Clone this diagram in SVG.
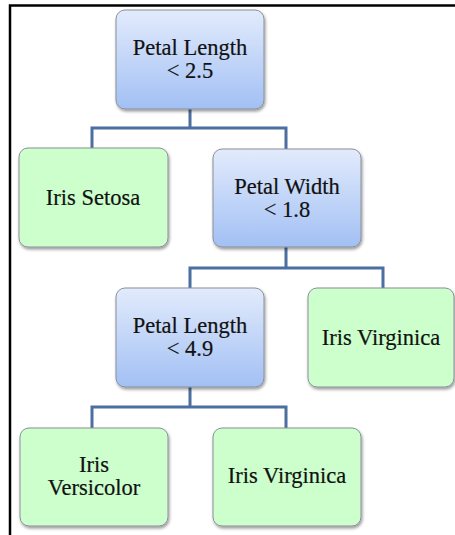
<svg xmlns="http://www.w3.org/2000/svg" width="455" height="535" viewBox="0 0 455 535">
<defs>
<linearGradient id="blueGrad" x1="0" y1="0" x2="0" y2="1">
<stop offset="0" stop-color="#e2ebfc"/>
<stop offset="1" stop-color="#a2c0f4"/>
</linearGradient>
<filter id="shadow" x="-10%" y="-10%" width="125%" height="130%">
<feDropShadow dx="1" dy="2" stdDeviation="1.5" flood-color="#000" flood-opacity="0.4"/>
</filter>
</defs>
<style>
.decision{fill:url(#blueGrad);stroke:#8a8f99;stroke-width:1;filter:url(#shadow)}
.leaf{fill:#ccffcc;stroke:#8a8f99;stroke-width:1;filter:url(#shadow)}
.lbl{font-family:"Liberation Serif","DejaVu Serif",serif;font-size:22.5px;fill:#111;text-anchor:middle;stroke:#111;stroke-width:0.2}
.conn{fill:none;stroke:#4a6fa0;stroke-width:3}
.frame{fill:none;stroke:#000;stroke-width:2.5}
</style>
<rect width="455" height="535" fill="#fff"/>
<path class="frame" d="M10 535 V5.5 H455"/>
<g id="connectors">
<path class="conn" d="M190 109 V128 M92 149 V128 H286 V149"/>
<path class="conn" d="M286 247 V268 M190 288 V268 H383 V288"/>
<path class="conn" d="M190 387 V407 M92 428 V407 H286 V428"/>
</g>
<g id="node-petal-length-2-5">
<rect class="decision" x="116" y="10" width="148" height="99" rx="9"/>
<text class="lbl" x="190" y="55">Petal Length</text>
<text class="lbl" x="190" y="78">&lt; 2.5</text>
</g>
<g id="node-iris-setosa">
<rect class="leaf" x="19" y="148" width="149" height="99" rx="9"/>
<text class="lbl" x="93" y="205">Iris Setosa</text>
</g>
<g id="node-petal-width-1-8">
<rect class="decision" x="213" y="149" width="148" height="98" rx="9"/>
<text class="lbl" x="287" y="194">Petal Width</text>
<text class="lbl" x="287" y="217">&lt; 1.8</text>
</g>
<g id="node-petal-length-4-9">
<rect class="decision" x="116" y="288" width="148" height="99" rx="9"/>
<text class="lbl" x="190" y="333">Petal Length</text>
<text class="lbl" x="190" y="356">&lt; 4.9</text>
</g>
<g id="node-iris-virginica-right">
<rect class="leaf" x="308" y="288" width="146" height="99" rx="9"/>
<text class="lbl" x="381" y="345">Iris Virginica</text>
</g>
<g id="node-iris-versicolor">
<rect class="leaf" x="20" y="428" width="148" height="98" rx="9"/>
<text class="lbl" x="94" y="472">Iris</text>
<text class="lbl" x="94" y="495">Versicolor</text>
</g>
<g id="node-iris-virginica-bottom">
<rect class="leaf" x="213" y="428" width="148" height="98" rx="9"/>
<text class="lbl" x="287" y="483">Iris Virginica</text>
</g>
</svg>
